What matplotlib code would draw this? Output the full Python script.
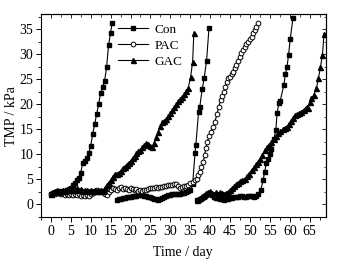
import numpy as np
import matplotlib
matplotlib.use("Agg")
import matplotlib.pyplot as plt
from matplotlib.ticker import MultipleLocator

plt.rcParams['font.family'] = ['Liberation Serif', 'DejaVu Serif']

# Con: three filtration cycles
con_day = [0, 0.5, 1, 1.5, 2, 2.5, 3, 3.5, 4, 4.5, 5, 5.5, 6, 6.5, 7, 7.5, 8, 8.5, 9, 9.5,
           10, 10.5, 11, 11.5, 12, 12.5, 13, 13.5, 14, 14.5, 15, 15.4,
           None,
           16.5, 17, 17.5, 18, 18.5, 19, 19.5, 20, 20.5, 21, 21.5, 22, 22.5, 23, 23.5, 24, 24.5,
           25, 25.5, 26, 26.5, 27, 27.5, 28, 28.5, 29, 29.5, 30, 30.5, 31, 31.5, 32, 32.5, 33,
           33.5, 34, 34.5, 35, 35.6, 36.2, 36.4, 37.1, 37.4, 38.0, 38.5, 39.1, 39.7,
           None,
           36.8, 37.5, 38, 38.5, 39, 39.5, 40, 40.5, 41, 41.5, 42, 42.5, 43, 43.5, 44, 44.5, 45,
           45.5, 46, 46.5, 47, 47.5, 48, 48.5, 49, 49.5, 50, 50.5, 51, 51.5, 52, 52.7, 53.3,
           53.7, 54.1, 54.5, 55, 55.4, 56.0, 56.5, 56.8, 57.3, 57.6, 58.5, 58.9, 59.3, 59.7,
           60.1, 60.8]
con_tmp = [2.0, 2.2, 2.4, 2.3, 2.6, 2.5, 2.7, 2.6, 2.8, 3.0, 3.3, 3.8, 4.3, 4.8, 5.2, 6.3,
           8.2, 8.6, 9.2, 10.2, 11.6, 14.0, 16.0, 18.0, 20.0, 22.3, 23.4, 24.7, 27.4, 31.9,
           34.3, 36.3,
           None,
           0.8, 1.0, 1.0, 1.2, 1.3, 1.4, 1.5, 1.5, 1.6, 1.7, 1.7, 1.8, 1.8, 1.8, 1.7, 1.6, 1.5,
           1.5, 1.3, 1.1, 1.0, 0.9, 1.0, 1.2, 1.4, 1.6, 1.8, 1.9, 2.0, 2.1, 2.1, 2.0, 2.1, 2.2,
           2.3, 2.5, 2.7, 2.9, 4.0, 10.2, 11.8, 18.5, 19.5, 23.0, 25.2, 28.7, 35.2,
           None,
           0.8, 1.0, 1.2, 1.5, 1.8, 2.0, 2.0, 1.8, 1.5, 1.3, 1.2, 1.0, 1.0, 0.9, 1.0, 1.1, 1.2,
           1.3, 1.4, 1.5, 1.5, 1.6, 1.6, 1.5, 1.5, 1.6, 1.7, 1.6, 1.5, 1.7, 2.0, 2.8, 4.8,
           6.5, 8.2, 9.0, 10.0, 11.0, 13.0, 14.8, 18.2, 20.3, 20.7, 23.8, 26.0, 27.5, 29.9,
           33.0, 37.2]

# PAC: one long cycle
pac_day = [0, 0.5, 1, 1.5, 2, 2.5, 3, 3.5, 4, 4.5, 5, 5.5, 6, 6.5, 7, 7.5, 8, 8.5, 9, 9.5,
           10, 10.5, 11, 11.5, 12, 12.5, 13, 13.5, 14, 14.5, 15, 15.5, 16, 16.5, 17, 17.5, 18,
           18.5, 19, 19.5, 20, 20.5, 21, 21.5, 22, 22.5, 23, 23.5, 24, 24.5, 25, 25.5, 26, 26.5,
           27, 27.5, 28, 28.5, 29, 29.5, 30, 30.5, 31, 31.5, 32, 32.5, 33, 33.5, 34, 34.5, 35,
           35.6, 36.1, 36.6, 37, 37.4, 37.8, 38.3, 38.6, 38.9, 39.3, 39.7, 40.2, 40.8, 41.2,
           41.7, 42.2, 42.6, 43.0, 43.4, 43.8, 44.2, 44.6, 45.0, 45.4, 45.8, 46.2, 46.6, 47.0,
           47.4, 47.8, 48.3, 48.7, 49.1, 49.5, 50.0, 50.4, 50.8, 51.2, 51.6, 52.0]
pac_tmp = [2.0, 2.3, 2.1, 2.4, 2.2, 2.0, 2.2, 1.9, 2.1, 1.8, 2.0, 1.9, 2.1, 1.8, 2.0, 1.7,
           1.9, 1.6, 1.8, 1.6, 2.0, 2.3, 2.6, 2.8, 2.7, 2.6, 2.4, 2.0, 1.8, 2.5, 2.9, 3.3, 3.0,
           2.8, 3.2, 3.4, 3.0, 3.3, 3.1, 2.9, 3.2, 3.0, 2.8, 3.0, 2.7, 2.9, 2.6, 2.8, 2.9, 3.1,
           3.2, 3.3, 3.2, 3.4, 3.3, 3.4, 3.5, 3.6, 3.7, 3.8, 3.9, 3.8, 4.0, 4.1, 3.6, 3.3, 3.4,
           3.6, 3.7, 3.9, 4.2, 4.5, 4.8, 5.1, 5.8, 6.5, 7.5, 8.5, 9.8, 11.2, 12.5, 13.6, 14.5,
           15.5, 16.5, 18.0, 19.5, 20.8, 21.6, 22.5, 23.5, 24.5, 25.2, 25.5, 26.0, 26.5, 27.2,
           27.9, 28.7, 29.5, 30.2, 30.9, 31.5, 32.1, 32.5, 33.0, 33.5, 34.2, 34.9, 35.5, 36.2]

# GAC: two cycles
gac_day = [0, 0.5, 1, 1.5, 2, 2.5, 3, 3.5, 4, 4.5, 5, 5.5, 6, 6.5, 7, 7.5, 8, 8.5, 9, 9.5,
           10, 10.5, 11, 11.5, 12, 12.5, 13, 13.5, 14, 14.5, 15, 15.5, 16, 16.5, 17, 17.5, 18,
           18.5, 19, 19.5, 20, 20.5, 21, 21.5, 22, 22.5, 23, 23.5, 24, 24.5, 25, 25.5, 26, 26.5,
           27, 27.5, 28, 28.5, 29, 29.5, 30, 30.5, 31, 31.5, 32, 32.5, 33, 33.5, 34, 34.5, 35.1,
           35.6, 35.9,
           None,
           36.6, 37, 37.5, 38, 38.5, 39, 39.5, 40, 40.5, 41, 41.5, 42, 42.5, 43, 43.5, 44, 44.5,
           45, 45.5, 46, 46.5, 47, 47.5, 48, 48.7, 49.2, 49.7, 50.4, 51, 51.5, 52, 52.5, 53,
           53.7, 54.2, 54.8, 55.4, 56, 56.5, 57, 57.6, 58.2, 58.7, 59.2, 59.7, 60.2, 60.7, 61.2,
           61.7, 62.3, 62.9, 63.5, 64.2, 64.6, 65.0, 65.4, 66.0, 66.7, 67.2, 67.7, 68.2, 68.6]
gac_tmp = [2.0, 2.4, 2.6, 2.8, 2.5, 2.7, 2.9, 2.7, 2.9, 3.0, 2.8, 3.1, 2.9, 3.2, 2.8, 3.0,
           2.7, 2.9, 2.8, 2.6, 2.9, 2.7, 2.8, 2.6, 2.7, 2.8, 2.7, 3.2, 3.8, 4.3, 4.8, 5.5, 6.0,
           6.1, 6.3, 6.6, 7.2, 7.5, 7.9, 8.3, 8.6, 9.2, 9.7, 10.2, 10.6, 10.9, 11.4, 11.9, 12.2,
           12.1, 11.6, 11.5, 12.3, 13.4, 14.5, 15.6, 16.4, 16.7, 17.0, 17.6, 18.2, 18.8, 19.4,
           20.0, 20.6, 21.0, 21.5, 22.0, 22.7, 23.2, 25.5, 28.5, 34.2,
           None,
           0.8, 1.0, 1.3, 1.6, 1.9, 2.2, 2.4, 2.6, 2.3, 2.0, 2.4, 2.1, 2.5, 2.2, 2.0, 2.3, 2.4,
           2.8, 3.2, 3.6, 4.0, 4.3, 4.6, 4.8, 5.1, 5.6, 6.1, 6.8, 7.4, 8.0, 8.5, 9.1, 9.8,
           10.8, 11.4, 11.9, 12.5, 13.1, 13.7, 14.2, 14.6, 15.0, 15.3, 15.5, 16.0, 16.6, 17.2,
           17.8, 18.0, 18.2, 18.5, 18.9, 19.5, 19.3, 20.5, 21.2, 21.8, 23.2, 25.2, 27.4, 29.9,
           34.1]


def to_arr(vals):
    return np.array([np.nan if v is None else v for v in vals], dtype=float)


fig = plt.figure(figsize=(3.41, 2.66), dpi=100)
ax = fig.add_axes([0.120, 0.184, 0.835, 0.763])

ax.plot(to_arr(con_day), to_arr(con_tmp), color='black', lw=0.8, marker='s',
        ms=3.3, mfc='black', mec='black', label='Con')
ax.plot(to_arr(pac_day), to_arr(pac_tmp), color='black', lw=0.8, marker='o',
        ms=3.4, mfc='white', mec='black', mew=0.7, label='PAC')
ax.plot(to_arr(gac_day), to_arr(gac_tmp), color='black', lw=0.8, marker='^',
        ms=3.6, mfc='black', mec='black', label='GAC')

ax.set_xlim(-2.5, 69)
ax.set_ylim(-2.6, 38)
ax.xaxis.set_major_locator(MultipleLocator(5))
ax.xaxis.set_minor_locator(MultipleLocator(2.5))
ax.yaxis.set_major_locator(MultipleLocator(5))
ax.yaxis.set_minor_locator(MultipleLocator(2.5))
ax.tick_params(which='major', direction='out', length=3.5, width=0.7, labelsize=10, pad=2)
ax.tick_params(which='minor', direction='out', length=2, width=0.6)

# inward ticks on top and right
top = ax.secondary_xaxis('top')
top.xaxis.set_major_locator(MultipleLocator(5))
top.xaxis.set_minor_locator(MultipleLocator(2.5))
top.tick_params(which='major', direction='in', length=3, width=0.6, labeltop=False)
top.tick_params(which='minor', direction='in', length=1.8, width=0.5)
right = ax.secondary_yaxis('right')
right.yaxis.set_major_locator(MultipleLocator(5))
right.yaxis.set_minor_locator(MultipleLocator(2.5))
right.tick_params(which='major', direction='in', length=3, width=0.6, labelright=False)
right.tick_params(which='minor', direction='in', length=1.8, width=0.5)

for sp in ax.spines.values():
    sp.set_linewidth(0.8)

ax.set_xlabel('Time / day', fontsize=10, labelpad=6)
ax.set_ylabel('TMP / kPa', fontsize=10, labelpad=1)

ax.legend(loc='upper left', bbox_to_anchor=(0.24, 1.0), frameon=False, fontsize=9.5,
          handlelength=2.2, handletextpad=0.5, labelspacing=0.3, borderaxespad=0.3)

fig.savefig('out.png', dpi=100)
